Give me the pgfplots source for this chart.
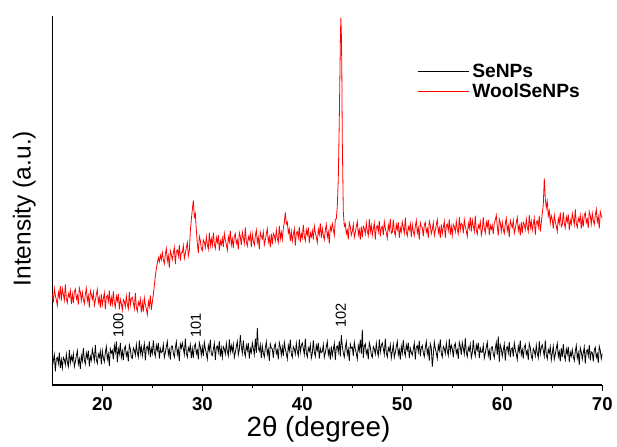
\documentclass[border=0pt]{standalone}
\usepackage{fontspec}
\setmainfont{Liberation Sans}
\usepackage{pgfplots}
\pgfplotsset{compat=1.18}

\begin{document}
\begin{tikzpicture}
\begin{axis}[
  name=ax,
  scale only axis,
  width=415pt, height=278.6pt,
  xmin=15, xmax=70, ymin=0, ymax=100,
  axis lines=left,
  axis line style={-, line width=0.9pt},
  xtick={20,30,...,70},
  minor xtick={25,35,45,55,65},
  ytick=\empty,
  tick align=outside,
  major tick length=4.5pt,
  minor tick length=2.25pt,
  every tick/.style={black, line width=0.9pt},
  /pgf/number format/assume math mode=true,
  xticklabel style={font=\fontsize{14}{16}\selectfont\bfseries, yshift=-1pt},
  xlabel={2θ (degree)},
  ylabel={Intensity (a.u.)},
  xlabel style={at={([yshift=-38.6pt]axis description cs:0.484,0)}, anchor=base, font=\fontsize{21}{25}\selectfont},
  ylabel style={at={([xshift=-16.3pt]axis description cs:0,0.478)}, anchor=base, font=\fontsize{18.5}{22}\selectfont},
  legend style={draw=none, fill=none, at={(0.656,0.885)}, anchor=north west,
    font=\fontsize{14.5}{16}\selectfont\bfseries, row sep=-1pt},
  legend cell align=left,
  legend image code/.code={\draw[#1, line width=0.45pt] (0pt,0pt) -- (39pt,0pt);},
]
% SeNPs
\addplot[black, line width=0.6pt] table {
x y
15.0 4.9
15.1 6.6
15.2 8.2
15.3 3.7
15.4 7.1
15.5 7.5
15.6 5.8
15.7 8.8
15.8 4.6
15.9 6.9
16.0 4.6
16.1 7.5
16.2 6.9
16.3 5.5
16.4 8.4
16.5 6.2
16.6 5.0
16.7 9.5
16.8 6.0
16.9 7.8
17.0 6.6
17.1 8.5
17.2 5.0
17.3 6.3
17.4 7.9
17.5 9.3
17.6 5.7
17.7 7.1
17.8 4.4
17.9 8.0
18.0 6.5
18.1 10.0
18.2 6.9
18.3 5.7
18.4 8.7
18.5 7.3
18.6 9.3
18.7 5.1
18.8 7.8
18.9 6.7
19.0 9.7
19.1 8.2
19.2 6.6
19.3 10.9
19.4 7.0
19.5 5.9
19.6 8.4
19.7 7.5
19.8 9.2
19.9 5.6
20.0 9.3
20.1 7.4
20.2 6.3
20.3 8.8
20.4 10.4
20.5 7.0
20.6 8.4
20.7 5.2
20.8 9.8
20.9 8.7
21.0 9.4
21.1 7.0
21.2 10.7
21.3 8.9
21.4 11.8
21.5 6.2
21.6 9.8
21.7 8.4
21.8 11.4
21.9 7.5
22.0 9.2
22.1 6.8
22.2 9.9
22.3 10.6
22.4 7.9
22.5 8.9
22.6 6.4
22.7 10.9
22.8 9.8
22.9 7.5
23.0 7.2
23.1 10.1
23.2 9.5
23.3 8.1
23.4 11.0
23.5 8.8
23.6 7.6
23.7 12.1
23.8 8.6
23.9 10.4
24.0 7.9
24.1 9.6
24.2 11.2
24.3 6.7
24.4 10.1
24.5 10.5
24.6 8.8
24.7 11.8
24.8 7.6
24.9 9.9
25.0 8.6
25.1 12.1
25.2 9.0
25.3 7.8
25.4 10.8
25.5 9.4
25.6 11.4
25.7 7.2
25.8 9.9
25.9 8.8
26.0 9.1
26.1 11.0
26.2 7.5
26.3 8.8
26.4 10.4
26.5 11.8
26.6 8.2
26.7 9.6
26.8 6.9
26.9 10.5
27.0 10.6
27.1 8.7
27.2 7.6
27.3 10.1
27.4 11.7
27.5 8.3
27.6 9.7
27.7 6.5
27.8 11.1
27.9 10.0
28.0 11.4
28.1 9.9
28.2 8.3
28.3 12.6
28.4 8.7
28.5 7.6
28.6 10.1
28.7 9.2
28.8 10.9
28.9 7.3
29.0 9.8
29.1 7.4
29.2 10.5
29.3 11.2
29.4 8.5
29.5 9.5
29.6 7.0
29.7 11.5
29.8 10.4
29.9 8.1
30.0 10.3
30.1 7.9
30.2 11.6
30.3 9.8
30.4 8.6
30.5 7.1
30.6 10.7
30.7 9.3
30.8 12.3
30.9 8.4
31.0 8.0
31.1 9.7
31.2 11.3
31.3 6.8
31.4 10.2
31.5 10.6
31.6 8.9
31.7 11.9
31.8 7.7
31.9 10.0
32.0 7.5
32.1 10.4
32.2 9.8
32.3 8.4
32.4 11.3
32.5 9.1
32.6 7.9
32.7 12.4
32.8 8.9
32.9 10.7
33.0 9.1
33.1 11.0
33.2 7.5
33.3 8.8
33.4 10.4
33.5 11.8
33.6 8.2
33.7 9.6
33.8 13.5
33.9 10.5
34.0 8.6
34.1 12.1
34.2 9.0
34.3 7.8
34.4 10.8
34.5 9.4
34.6 11.4
34.7 7.2
34.8 9.9
34.9 8.8
35.0 11.4
35.1 9.9
35.2 8.3
35.3 12.6
35.4 8.7
35.5 15.5
35.6 10.1
35.7 9.2
35.8 10.9
35.9 7.3
36.0 10.6
36.1 8.7
36.2 7.6
36.3 10.1
36.4 11.7
36.5 8.3
36.6 9.7
36.7 6.5
36.8 11.1
36.9 10.0
37.0 9.8
37.1 7.4
37.2 10.5
37.3 11.2
37.4 8.5
37.5 9.5
37.6 7.0
37.7 11.5
37.8 10.4
37.9 8.1
38.0 10.3
38.1 7.9
38.2 11.6
38.3 9.8
38.4 8.6
38.5 7.1
38.6 10.7
38.7 9.3
38.8 12.3
38.9 8.4
39.0 7.5
39.1 10.4
39.2 9.8
39.3 8.4
39.4 11.3
39.5 9.1
39.6 7.9
39.7 12.4
39.8 8.9
39.9 10.7
40.0 11.4
40.1 9.9
40.2 8.3
40.3 12.6
40.4 8.7
40.5 7.6
40.6 10.1
40.7 9.2
40.8 10.9
40.9 7.3
41.0 8.6
41.1 12.1
41.2 9.0
41.3 7.8
41.4 10.8
41.5 9.4
41.6 11.4
41.7 7.2
41.8 9.9
41.9 8.8
42.0 9.1
42.1 11.0
42.2 7.5
42.3 8.8
42.4 10.4
42.5 11.8
42.6 8.2
42.7 9.6
42.8 6.9
42.9 10.5
43.0 8.0
43.1 9.7
43.2 11.3
43.3 6.8
43.4 10.2
43.5 10.6
43.6 8.9
43.7 11.9
43.8 7.7
43.9 13.5
44.0 10.6
44.1 8.7
44.2 7.6
44.3 10.1
44.4 11.7
44.5 8.3
44.6 9.7
44.7 6.5
44.8 11.1
44.9 10.0
45.0 10.3
45.1 7.9
45.2 11.6
45.3 9.8
45.4 8.6
45.5 7.1
45.6 10.7
45.7 9.3
45.8 12.3
45.9 8.4
46.0 15.0
46.1 7.4
46.2 10.5
46.3 11.2
46.4 8.5
46.5 9.5
46.6 7.0
46.7 11.5
46.8 10.4
46.9 8.1
47.0 7.5
47.1 10.4
47.2 9.8
47.3 8.4
47.4 11.3
47.5 9.1
47.6 7.9
47.7 12.4
47.8 8.9
47.9 10.7
48.0 11.4
48.1 9.9
48.2 8.3
48.3 12.6
48.4 8.7
48.5 7.6
48.6 10.1
48.7 9.2
48.8 10.9
48.9 7.3
49.0 9.1
49.1 11.0
49.2 7.5
49.3 8.8
49.4 10.4
49.5 11.8
49.6 8.2
49.7 9.6
49.8 6.9
49.9 10.5
50.0 8.7
50.1 12.2
50.2 9.1
50.3 7.9
50.4 10.9
50.5 9.5
50.6 11.5
50.7 7.3
50.8 10.0
50.9 8.9
51.0 8.1
51.1 9.8
51.2 11.4
51.3 6.9
51.4 10.3
51.5 10.7
51.6 9.0
51.7 12.0
51.8 7.8
51.9 10.1
52.0 10.7
52.1 8.8
52.2 7.7
52.3 10.2
52.4 11.8
52.5 8.4
52.6 9.8
52.7 6.6
52.8 11.2
52.9 10.1
53.0 5.0
53.1 8.0
53.2 11.7
53.3 9.9
53.4 8.7
53.5 7.2
53.6 10.8
53.7 9.4
53.8 12.4
53.9 8.5
54.0 7.6
54.1 10.5
54.2 9.9
54.3 8.5
54.4 11.4
54.5 9.2
54.6 8.0
54.7 12.5
54.8 9.0
54.9 10.8
55.0 9.9
55.1 7.5
55.2 10.6
55.3 11.3
55.4 8.6
55.5 9.6
55.6 7.1
55.7 11.6
55.8 10.5
55.9 8.2
56.0 11.5
56.1 10.0
56.2 8.4
56.3 12.7
56.4 8.8
56.5 7.7
56.6 10.2
56.7 9.3
56.8 11.0
56.9 7.4
57.0 8.7
57.1 12.2
57.2 9.1
57.3 7.9
57.4 10.9
57.5 9.5
57.6 11.5
57.7 7.3
57.8 10.0
57.9 8.9
58.0 8.9
58.1 10.8
58.2 7.3
58.3 8.6
58.4 10.2
58.5 11.6
58.6 8.0
58.7 9.4
58.8 6.7
58.9 10.3
59.0 10.4
59.1 8.5
59.2 7.4
59.3 9.9
59.4 11.5
59.5 8.1
59.6 13.2
59.7 6.3
59.8 10.9
59.9 9.8
60.0 7.8
60.1 9.5
60.2 11.1
60.3 6.6
60.4 10.0
60.5 10.4
60.6 8.7
60.7 11.7
60.8 7.5
60.9 9.8
61.0 10.1
61.1 7.7
61.2 11.4
61.3 9.6
61.4 8.4
61.5 6.9
61.6 10.5
61.7 9.1
61.8 12.1
61.9 8.2
62.0 9.6
62.1 7.2
62.2 10.3
62.3 11.0
62.4 8.3
62.5 9.3
62.6 6.8
62.7 11.3
62.8 10.2
62.9 7.9
63.0 7.0
63.1 9.9
63.2 9.3
63.3 7.9
63.4 10.8
63.5 8.6
63.6 7.4
63.7 11.9
63.8 8.4
63.9 10.2
64.0 10.9
64.1 9.4
64.2 7.8
64.3 12.1
64.4 8.2
64.5 7.1
64.6 9.6
64.7 8.7
64.8 10.4
64.9 6.8
65.0 8.6
65.1 10.5
65.2 7.0
65.3 8.3
65.4 9.9
65.5 11.3
65.6 7.7
65.7 9.1
65.8 6.4
65.9 10.0
66.0 7.6
66.1 11.1
66.2 8.0
66.3 6.8
66.4 9.8
66.5 8.4
66.6 10.4
66.7 6.2
66.8 8.9
66.9 7.8
67.0 9.6
67.1 7.7
67.2 6.6
67.3 9.1
67.4 10.7
67.5 7.3
67.6 8.7
67.7 5.5
67.8 10.1
67.9 9.0
68.0 7.0
68.1 8.7
68.2 10.3
68.3 5.8
68.4 9.2
68.5 9.6
68.6 7.9
68.7 10.9
68.8 6.7
68.9 9.0
69.0 8.8
69.1 6.4
69.2 9.5
69.3 10.2
69.4 7.5
69.5 8.5
69.6 6.0
69.7 10.5
69.8 9.4
69.9 7.1
70.0 8.6
};
\addlegendentry{SeNPs}
% WoolSeNPs
\addplot[red, line width=0.6pt] table {
x y
15.0 24.8
15.1 22.4
15.2 26.1
15.3 24.3
15.4 23.1
15.5 21.6
15.6 25.2
15.7 23.8
15.8 26.8
15.9 22.9
16.0 26.1
16.1 24.6
16.2 23.0
16.3 27.3
16.4 23.4
16.5 22.3
16.6 24.8
16.7 23.9
16.8 25.6
16.9 22.0
17.0 24.6
17.1 22.2
17.2 25.3
17.3 26.0
17.4 23.3
17.5 24.3
17.6 21.8
17.7 26.3
17.8 25.2
17.9 22.9
18.0 25.1
18.1 23.2
18.2 22.1
18.3 24.6
18.4 26.2
18.5 22.8
18.6 24.2
18.7 21.0
18.8 25.6
18.9 24.5
19.0 23.2
19.1 25.1
19.2 21.6
19.3 22.9
19.4 24.5
19.5 25.9
19.6 22.3
19.7 23.7
19.8 21.0
19.9 24.6
20.0 21.7
20.1 23.4
20.2 25.0
20.3 20.5
20.4 23.9
20.5 24.3
20.6 22.6
20.7 25.6
20.8 21.4
20.9 23.7
21.0 21.9
21.1 25.4
21.2 22.3
21.3 21.1
21.4 24.1
21.5 22.7
21.6 24.7
21.7 20.5
21.8 23.2
21.9 22.1
22.0 20.3
22.1 23.2
22.2 22.6
22.3 21.2
22.4 24.1
22.5 21.9
22.6 20.7
22.7 25.2
22.8 21.7
22.9 23.5
23.0 23.8
23.1 22.3
23.2 20.7
23.3 25.0
23.4 21.1
23.5 20.0
23.6 22.5
23.7 21.6
23.8 23.3
23.9 19.7
24.0 22.3
24.1 19.9
24.2 23.6
24.3 21.8
24.4 20.6
24.5 19.1
24.6 22.7
24.7 21.3
24.8 24.3
24.9 20.4
25.0 22.5
25.1 24.5
25.2 27.0
25.3 29.5
25.4 31.5
25.5 33.0
25.6 34.5
25.7 33.4
25.8 35.2
25.9 34.0
26.0 35.9
26.1 34.0
26.2 32.9
26.3 35.4
26.4 37.0
26.5 33.6
26.6 35.0
26.7 31.8
26.8 36.4
26.9 35.3
27.0 34.0
27.1 35.7
27.2 37.3
27.3 32.8
27.4 36.2
27.5 36.6
27.6 34.9
27.7 37.9
27.8 33.7
27.9 36.0
28.0 35.9
28.1 37.8
28.2 34.3
28.3 35.6
28.4 37.2
28.5 38.6
28.6 35.0
28.7 36.4
28.8 41.6
28.9 44.8
29.0 47.5
29.1 50.0
29.2 45.5
29.3 46.5
29.4 42.0
29.5 38.3
29.6 35.8
29.7 40.3
29.8 39.2
29.9 36.9
30.0 36.4
30.1 39.3
30.2 38.7
30.3 37.3
30.4 40.2
30.5 38.0
30.6 36.8
30.7 41.3
30.8 37.8
30.9 39.6
31.0 37.8
31.1 41.3
31.2 38.2
31.3 37.0
31.4 40.0
31.5 38.6
31.6 40.6
31.7 36.4
31.8 39.1
31.9 38.0
32.0 39.8
32.1 37.4
32.2 41.1
32.3 39.3
32.4 38.1
32.5 36.6
32.6 40.2
32.7 38.8
32.8 41.8
32.9 37.9
33.0 39.6
33.1 37.2
33.2 40.3
33.3 41.0
33.4 38.3
33.5 39.3
33.6 36.8
33.7 41.3
33.8 40.2
33.9 37.9
34.0 41.5
34.1 40.0
34.2 38.4
34.3 42.7
34.4 38.8
34.5 37.7
34.6 40.2
34.7 39.3
34.8 41.0
34.9 37.4
35.0 40.9
35.1 39.0
35.2 37.9
35.3 40.4
35.4 42.0
35.5 38.6
35.6 40.0
35.7 36.8
35.8 41.4
35.9 40.3
36.0 39.6
36.1 41.5
36.2 38.0
36.3 39.3
36.4 40.9
36.5 42.3
36.6 38.7
36.7 40.1
36.8 37.4
36.9 41.0
37.0 38.2
37.1 41.1
37.2 40.5
37.3 39.1
37.4 42.0
37.5 39.8
37.6 38.6
37.7 43.1
37.8 39.6
37.9 41.4
38.0 39.4
38.1 42.5
38.2 44.0
38.3 46.8
38.4 43.6
38.5 44.2
38.6 41.2
38.7 42.3
38.8 39.0
38.9 41.6
39.0 39.0
39.1 40.7
39.2 42.3
39.3 37.8
39.4 41.2
39.5 41.6
39.6 39.9
39.7 42.9
39.8 38.7
39.9 41.0
40.0 39.9
40.1 43.4
40.2 40.3
40.3 39.1
40.4 42.1
40.5 40.7
40.6 42.7
40.7 38.5
40.8 41.2
40.9 40.1
41.0 41.8
41.1 39.4
41.2 43.1
41.3 41.3
41.4 40.1
41.5 38.6
41.6 42.2
41.7 40.8
41.8 43.8
41.9 39.9
42.0 42.4
42.1 40.5
42.2 39.4
42.3 41.9
42.4 43.5
42.5 40.1
42.6 41.5
42.7 38.3
42.8 42.9
42.9 41.8
43.0 43.7
43.1 42.2
43.2 40.6
43.3 44.9
43.4 45.0
43.5 48.5
43.6 56.0
43.7 72.0
43.8 92.0
43.85 99.5
43.9 96.0
43.95 86.0
44.0 66.0
44.1 47.0
44.2 43.0
44.3 43.7
44.4 41.0
44.5 42.0
44.6 39.5
44.7 44.0
44.8 42.9
44.9 40.6
45.0 41.6
45.1 43.5
45.2 40.0
45.3 41.3
45.4 42.9
45.5 44.3
45.6 40.7
45.7 42.1
45.8 39.4
45.9 43.0
46.0 40.1
46.1 43.0
46.2 42.4
46.3 41.0
46.4 43.9
46.5 41.7
46.6 40.5
46.7 45.0
46.8 41.5
46.9 43.3
47.0 40.6
47.1 42.3
47.2 43.9
47.3 39.4
47.4 42.8
47.5 43.2
47.6 41.5
47.7 44.5
47.8 40.3
47.9 42.6
48.0 43.0
48.1 40.6
48.2 44.3
48.3 42.5
48.4 41.3
48.5 39.8
48.6 43.4
48.7 42.0
48.8 45.0
48.9 41.1
49.0 41.3
49.1 44.8
49.2 41.7
49.3 40.5
49.4 43.5
49.5 42.1
49.6 44.1
49.7 39.9
49.8 42.6
49.9 41.5
50.0 44.2
50.1 42.7
50.2 41.1
50.3 45.4
50.4 41.5
50.5 40.4
50.6 42.9
50.7 42.0
50.8 43.7
50.9 40.1
51.0 43.5
51.1 41.6
51.2 40.5
51.3 43.0
51.4 44.6
51.5 41.2
51.6 42.6
51.7 39.4
51.8 44.0
51.9 42.9
52.0 42.7
52.1 40.3
52.2 43.4
52.3 44.1
52.4 41.4
52.5 42.4
52.6 39.9
52.7 44.4
52.8 43.3
52.9 41.0
53.0 42.1
53.1 44.0
53.2 40.5
53.3 41.8
53.4 43.4
53.5 44.8
53.6 41.2
53.7 42.6
53.8 39.9
53.9 43.5
54.0 41.0
54.1 42.7
54.2 44.3
54.3 39.8
54.4 43.2
54.5 43.6
54.6 41.9
54.7 44.9
54.8 40.7
54.9 43.0
55.0 40.6
55.1 43.5
55.2 42.9
55.3 41.5
55.4 44.4
55.5 42.2
55.6 41.0
55.7 45.5
55.8 42.0
55.9 43.8
56.0 43.5
56.1 41.1
56.2 44.8
56.3 43.0
56.4 41.8
56.5 40.3
56.6 43.9
56.7 42.5
56.8 45.5
56.9 41.6
57.0 44.7
57.1 43.2
57.2 41.6
57.3 45.9
57.4 42.0
57.5 40.9
57.6 43.4
57.7 42.5
57.8 44.2
57.9 40.6
58.0 42.0
58.1 45.5
58.2 42.4
58.3 41.2
58.4 44.2
58.5 42.8
58.6 44.8
58.7 40.6
58.8 43.3
58.9 42.2
59.0 43.3
59.1 40.9
59.2 44.0
59.3 44.7
59.4 46.0
59.5 43.0
59.6 40.5
59.7 45.0
59.8 43.9
59.9 41.6
60.0 44.1
60.1 42.2
60.2 41.1
60.3 43.6
60.4 45.2
60.5 41.8
60.6 43.2
60.7 40.0
60.8 44.6
60.9 43.5
61.0 42.7
61.1 44.6
61.2 41.1
61.3 42.4
61.4 44.0
61.5 45.4
61.6 41.8
61.7 43.2
61.8 40.5
61.9 44.1
62.0 41.2
62.1 44.1
62.2 43.5
62.3 42.1
62.4 45.0
62.5 42.8
62.6 41.6
62.7 46.1
62.8 42.6
62.9 44.4
63.0 41.9
63.1 43.6
63.2 45.2
63.3 40.7
63.4 44.1
63.5 44.5
63.6 42.8
63.7 45.8
63.8 41.6
63.9 43.9
64.0 46.5
64.1 48.8
64.2 56.0
64.3 50.5
64.4 48.0
64.5 49.8
64.6 45.8
64.7 47.2
64.8 43.9
64.9 45.9
65.0 44.8
65.1 42.4
65.2 46.1
65.3 44.3
65.4 43.1
65.5 41.6
65.6 45.2
65.7 43.8
65.8 46.8
65.9 42.9
66.0 43.4
66.1 46.9
66.2 43.8
66.3 42.6
66.4 45.6
66.5 44.2
66.6 46.2
66.7 42.0
66.8 44.7
66.9 43.6
67.0 46.5
67.1 45.0
67.2 43.4
67.3 47.7
67.4 43.8
67.5 42.7
67.6 45.2
67.7 44.3
67.8 46.0
67.9 42.4
68.0 45.3
68.1 42.9
68.2 46.0
68.3 46.7
68.4 44.0
68.5 45.0
68.6 42.5
68.7 47.0
68.8 45.9
68.9 43.6
69.0 46.5
69.1 44.6
69.2 43.5
69.3 46.0
69.4 47.6
69.5 44.2
69.6 45.6
69.7 42.4
69.8 47.0
69.9 45.9
70.0 45.2
};
\addlegendentry{WoolSeNPs}
\node[rotate=90, anchor=west, inner sep=0pt, font=\fontsize{11}{13}\selectfont] at (axis cs:21.6,12.8) {100};
\node[rotate=90, anchor=west, inner sep=0pt, font=\fontsize{11}{13}\selectfont] at (axis cs:29.35,12.8) {101};
\node[rotate=90, anchor=west, inner sep=0pt, font=\fontsize{11}{13}\selectfont] at (axis cs:43.85,15.5) {102};
\end{axis}
\path ([xshift=-39.5pt,yshift=-42.4pt]ax.south west) rectangle ([xshift=8.25pt,yshift=12pt]ax.north east);
\end{tikzpicture}
\end{document}
